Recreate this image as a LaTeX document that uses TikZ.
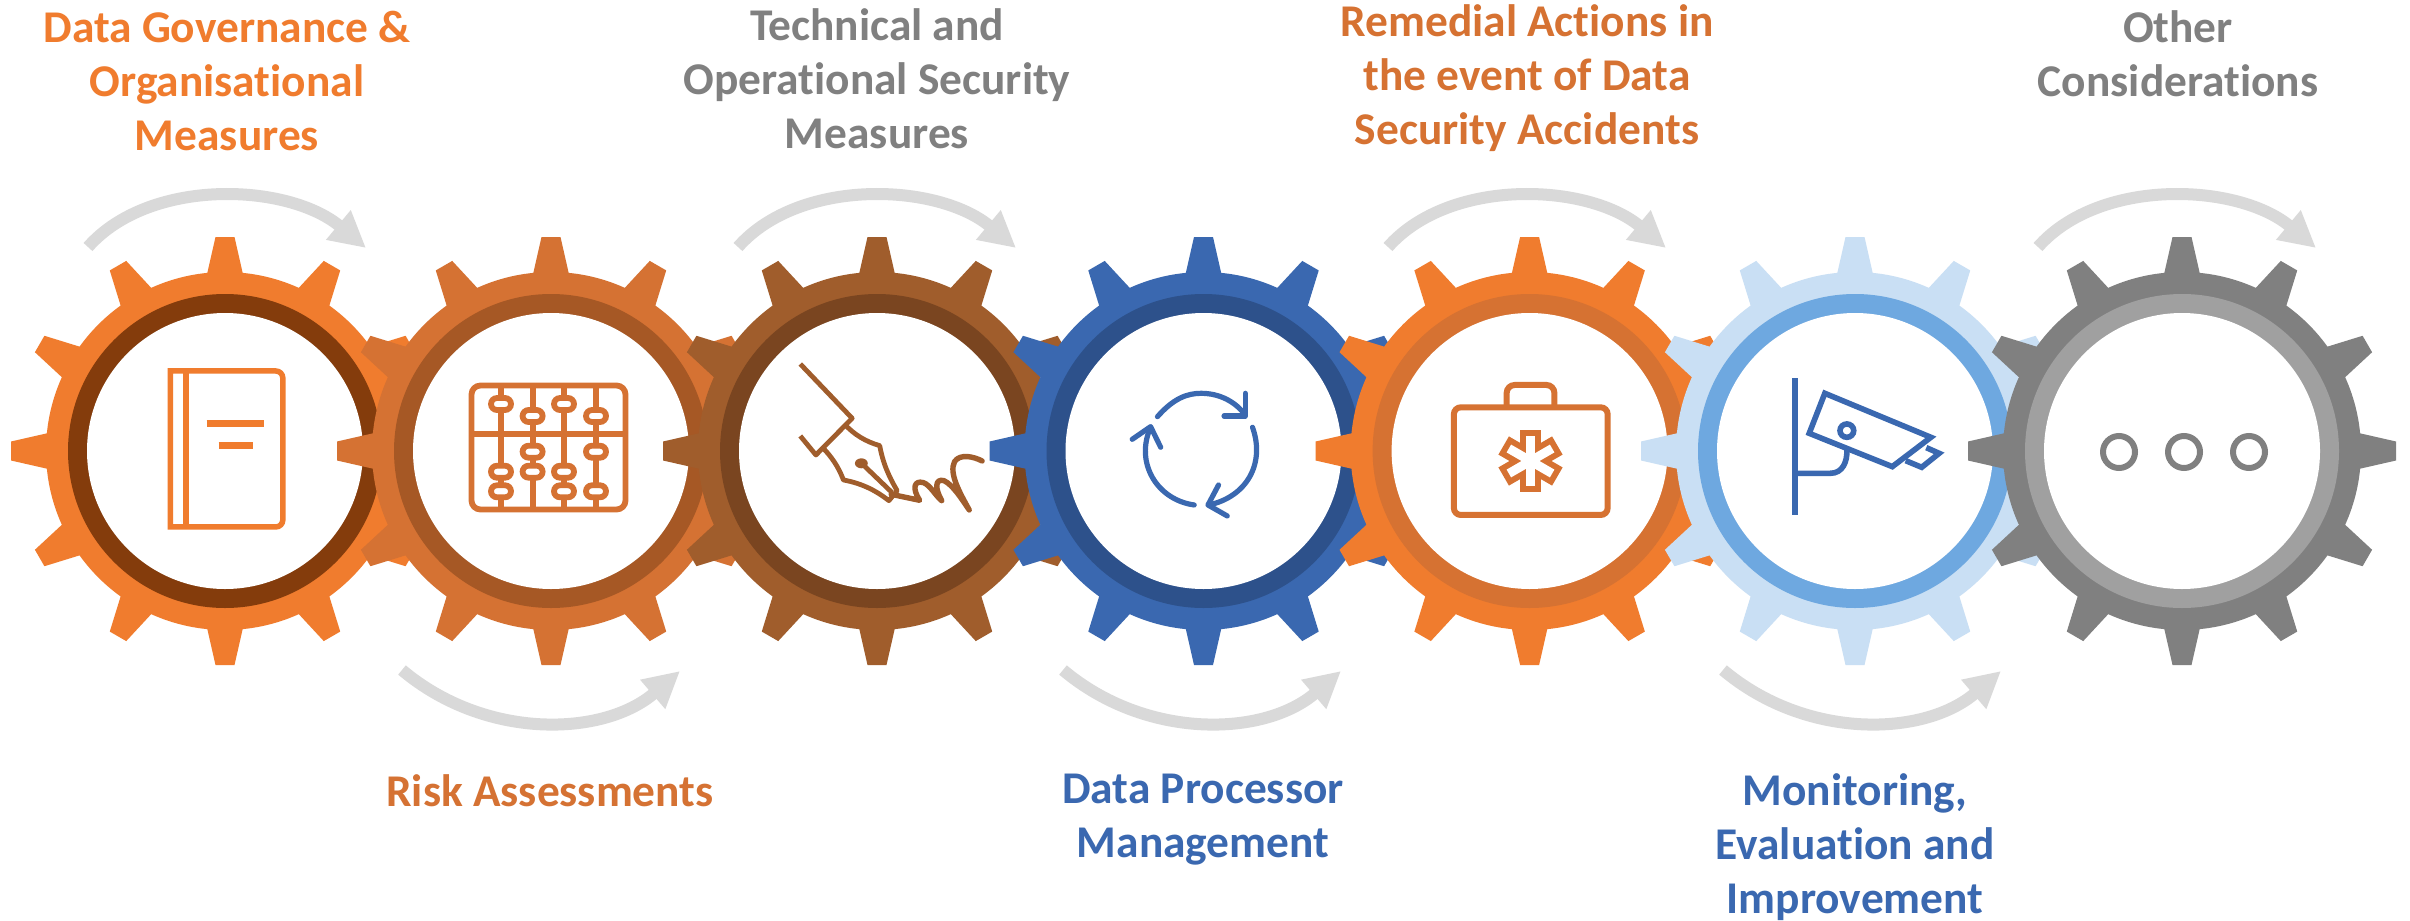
\documentclass[tikz,border=0pt]{standalone}
\usepackage{fontspec}
\setmainfont{Carlito}[Ligatures=NoCommon]
\usetikzlibrary{arrows.meta}
\definecolor{gA}{HTML}{F07C2E}\definecolor{rA}{HTML}{843C0C}
\definecolor{gB}{HTML}{D57233}\definecolor{rB}{HTML}{A65825}
\definecolor{gC}{HTML}{A05D2C}\definecolor{rC}{HTML}{7A4520}
\definecolor{gD}{HTML}{3A68B0}\definecolor{rD}{HTML}{2D518B}
\definecolor{gE}{HTML}{F07C2E}\definecolor{rE}{HTML}{D67232}
\definecolor{gF}{HTML}{C9DFF4}\definecolor{rF}{HTML}{6EA8E0}
\definecolor{gG}{HTML}{808080}\definecolor{rG}{HTML}{A0A0A0}
\definecolor{arrowgrey}{HTML}{D9D9D9}
\tikzset{
  flowarrow/.style={draw=arrowgrey,line width=12pt,-{Triangle[length=36pt,width=36pt,fill=arrowgrey]}},
  caption/.style={font=\bfseries\fontsize{45.4}{54}\selectfont,align=center,anchor=base,inner sep=0pt},
  iconline/.style={line width=5.5pt,line join=miter},
  softline/.style={line width=5.2pt,line cap=round,line join=round},
  zoomA/.style={shift={(0,180)},xscale=0.4591,yscale=0.3333},
  zoomB/.style={shift={(680,180)},xscale=0.4591,yscale=0.3333},
  zoomC/.style={shift={(1340,180)},xscale=0.4591,yscale=0.3333},
}
\newcommand{\gearshape}[3]{%
  \fill[#2] (#1,451) circle[radius=179];
  \foreach \a in {0,30,...,330}{
    \begin{scope}[shift={(#1,451)},rotate=\a]
      \fill[#2] (-17.7,-170) -- (-17.7,-178) -- (-9.5,-214) -- (9.5,-214) -- (17.7,-178) -- (17.7,-170) -- cycle;
    \end{scope}}
  \fill[#3] (#1,451) circle[radius=157];
  \fill[white] (#1,451) circle[radius=138];
}
\newcommand{\bead}[3]{\draw[#3,line width=5.8pt,fill=white,rounded corners=6pt] (#1-10,#2-6) rectangle (#1+10,#2+6);}
\begin{document}
\begin{tikzpicture}[x=1pt,y=-1pt]
\useasboundingbox (0,0) rectangle (2410,921);
\fill[white] (0,0) rectangle (2410,921);
% ---------- gear 1 + book
\gearshape{225}{gA}{rA}
\begin{scope}[zoomA]
  \draw[gA,iconline] (371,573) [rounded corners=7pt] -- (616,573) -- (616,1041) [sharp corners] -- (371,1041) -- cycle;
  \draw[gA,line width=6pt] (406,573) -- (406,1041);
  \draw[gA,line width=6.5pt] (450,731) -- (576,731);
  \draw[gA,line width=6.5pt] (476,796) -- (550,796);
\end{scope}
% ---------- gear 2 + abacus
\gearshape{551}{gB}{rB}
\draw[gB,line width=5.8pt,rounded corners=9pt] (471.5,385.5) rectangle (625.5,509.5);
\draw[gB,line width=5.8pt] (471.5,434) -- (625.5,434);
\foreach \r in {501,532.6,564,596}{\draw[gB,line width=5.8pt] (\r,385.5) -- (\r,509.5);}
\bead{501}{404}{gB}\bead{532.6}{416}{gB}\bead{564}{404}{gB}\bead{596}{416}{gB}
\bead{501}{471.7}{gB}\bead{501}{491.3}{gB}
\bead{532.6}{451.7}{gB}\bead{532.6}{471.7}{gB}
\bead{564}{471.7}{gB}\bead{564}{491.3}{gB}
\bead{596}{451.7}{gB}\bead{596}{491.3}{gB}
% ---------- gear 3 + pen
\gearshape{877}{gC}{rC}
\begin{scope}[zoomB]
  \draw[gC,line width=4.8pt,line join=round] (262,552) -- (375,715) -- (296,825) -- (262,768);
  \draw[gC,line width=4.8pt,line join=round] (358,732) .. controls (380,765) and (405,785) .. (435,797)
     .. controls (442,850) and (455,890) .. (473,932) -- (455,962)
     .. controls (425,930) and (395,910) .. (356,900)
     .. controls (345,860) and (330,830) .. (310,802);
  \draw[gC,line width=4.8pt] (397,852) -- (462,938);
  \fill[gC] (395,850) ellipse[x radius=14,y radius=15];
  \draw[gC,line width=5.4pt,line cap=round,line join=round] (460,943) -- (522,961)
     .. controls (505,925) and (510,900) .. (530,908)
     .. controls (545,915) and (555,945) .. (570,962)
     .. controls (555,925) and (555,895) .. (575,902)
     .. controls (595,915) and (615,960) .. (630,990)
     .. controls (610,940) and (585,880) .. (598,845)
     .. controls (610,820) and (640,830) .. (658,843);
\end{scope}
% ---------- gear 4 + cycle
\gearshape{1203.5}{gD}{rD}
\begin{scope}[zoomB]
  \draw[gD,softline] (1040,710) .. controls (1075,655) and (1105,640) .. (1135,640) .. controls (1175,640) and (1210,665) .. (1231,705);
  \draw[gD,softline] (1231,640) -- (1231,708) -- (1185,708);
  \draw[gD,softline] (1247,742) .. controls (1275,850) and (1235,950) .. (1152,975);
  \draw[gD,softline] (1173,915) -- (1150,975) -- (1192,1008);
  \draw[gD,softline] (1120,975) .. controls (1040,960) and (990,850) .. (1025,742);
  \draw[gD,softline] (985,778) -- (1025,740) -- (1047,802);
\end{scope}
% ---------- gear 5 + medical bag
\gearshape{1529.6}{gE}{rE}
\begin{scope}[zoomC]
  \draw[rE,line width=6pt,rounded corners=7pt] (248,682) rectangle (583,1005);
  \draw[rE,line width=6pt,rounded corners=8pt] (363,682) -- (363,615) -- (467,615) -- (467,682);
\end{scope}
\foreach \a in {90,30,150}{
  \draw[rE,line width=21pt] ({1530.5-31*cos(\a)},{461-31*sin(\a)}) -- ({1530.5+31*cos(\a)},{461+31*sin(\a)});}
\foreach \a in {90,30,150}{
  \draw[white,line width=9pt] ({1530.5-25*cos(\a)},{461-25*sin(\a)}) -- ({1530.5+25*cos(\a)},{461+25*sin(\a)});}
% ---------- gear 6 + camera
\gearshape{1855}{gF}{rF}
\begin{scope}[zoomC]
  \draw[gD,line width=6pt] (992,595) -- (992,1005);
  \draw[gD,line width=5.6pt,line join=miter] (1056,640) -- (1287,772) -- (1203,860) -- (1022,760) -- cycle;
  \draw[gD,line width=5.6pt] (1277,803) -- (1305,820) -- (1267,862) -- (1232,842);
  \draw[gD,line width=5.6pt] (1104,752) ellipse[x radius=15,y radius=20];
  \draw[gD,line width=5.6pt] (992,880) -- (1068,880) .. controls (1095,880) and (1105,845) .. (1104,810);
\end{scope}
% ---------- gear 7 + dots
\gearshape{2182}{gG}{rG}
\foreach \d in {2119,2184,2249}{\draw[gG,line width=6pt] (\d,452) circle[radius=16];}
% ---------- flow arrows
\foreach \sx [count=\i] in {0,650,1300,1950}{
  \coordinate (top\i s) at (88+\sx,247);
  \coordinate (top\i e) at (366+\sx,248);
  \draw[flowarrow] (top\i s) .. controls (150+\sx,177) and (288+\sx,183) .. (top\i e);
}
\foreach \sx [count=\i] in {0,661,1321}{
  \coordinate (bot\i s) at (402+\sx,670);
  \coordinate (bot\i e) at (680+\sx,671);
  \draw[flowarrow] (bot\i s) .. controls (485+\sx,740) and (603+\sx,737) .. (bot\i e);
}
% ---------- captions (anchored on the baseline of the last line)
\node[caption,text=gA] (t1) at (227,150) {Data Governance \&\\Organisational\\Measures};
\node[caption,text=gB] (t2) at (550,806) {Risk Assessments};
\node[caption,text=gG] (t3) at (877,148) {Technical and\\Operational Security\\Measures};
\node[caption,text=gD] (t4) at (1203,857) {Data Processor\\Management};
\node[caption,text=rE] (t5) at (1527,144) {Remedial Actions in\\the event of Data\\Security Accidents};
\node[caption,text=gD] (t6) at (1855,913) {Monitoring,\\Evaluation and\\Improvement};
\node[caption,text=gG] (t7) at (2178,96) {Other\\Considerations};
\end{tikzpicture}
\end{document}
